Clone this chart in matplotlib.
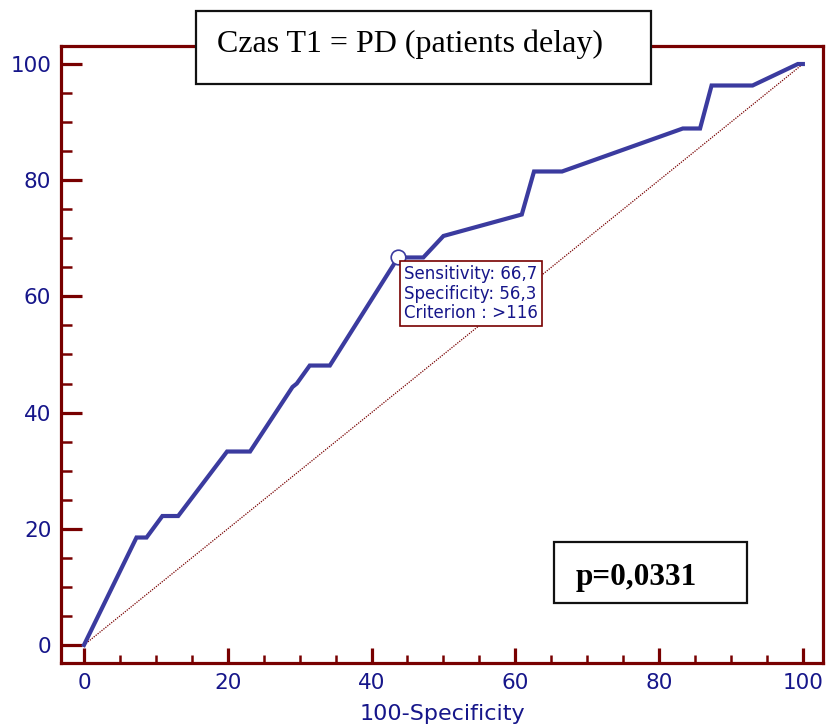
"""
Krzywa ROC - czas T1 (patients delay).
"""
import matplotlib
matplotlib.use('Agg')
import matplotlib.pyplot as plt
from matplotlib.patches import Rectangle
from matplotlib.ticker import MultipleLocator

# Dane (100-Specificity, Sensitivity)
fpr = [0, 7.3, 8.7, 10.9, 13.1, 19.9, 23.1, 29.0, 29.6, 31.4, 34.2, 43.7,
       47.2, 50.0, 60.9, 62.6, 66.5, 83.3, 85.7, 87.3, 93.0, 99.3, 100]
tpr = [0, 18.5, 18.5, 22.2, 22.2, 33.3, 33.3, 44.4, 45.0, 48.1, 48.1, 66.7,
       66.7, 70.4, 74.1, 81.5, 81.5, 88.9, 88.9, 96.3, 96.3, 100, 100]
diag = [0, 100]

# Punkt odciecia
cut_x = 43.7
cut_y = 66.7
cut_labels = ['Sensitivity: 66,7', 'Specificity: 56,3', 'Criterion : >116']

tytul = 'Czas T1 = PD (patients delay)'
p_text = 'p=0,0331'
xlabel = '100-Specificity'

CIEMNY_CZERWONY = '#780000'
GRANAT = '#16168a'
NIEBIESKI = '#3b3b9f'

W, H = 826, 726
fig = plt.figure(figsize=(W / 100, H / 100), dpi=100)
ax = fig.add_axes([61 / W, 1 - 663 / H, (823 - 61) / W, (663 - 46) / H])

# Przekatna i krzywa ROC
ax.plot(diag, diag, color=CIEMNY_CZERWONY, lw=0.9, linestyle=(0, (1, 1)))
ax.plot(fpr, tpr, color=NIEBIESKI, lw=3, solid_joinstyle='miter')
ax.plot([cut_x], [cut_y], 'o', ms=10.5, mfc='white', mec=NIEBIESKI, mew=1.2,
        zorder=5)

ax.annotate('\n'.join(cut_labels), xy=(cut_x, cut_y), xytext=(6, -8),
            textcoords='offset pixels', ha='left', va='top', fontsize=12,
            color=GRANAT, linespacing=1.1, zorder=6,
            bbox=dict(boxstyle='square,pad=0.25', fc='white',
                      ec=CIEMNY_CZERWONY, lw=1.2))

ax.set_xlim(-3.2, 102.8)
ax.set_ylim(-3.1, 103.1)

# Osie
for s in ax.spines.values():
    s.set_color(CIEMNY_CZERWONY)
    s.set_linewidth(2.3)

ax.xaxis.set_major_locator(MultipleLocator(20))
ax.xaxis.set_minor_locator(MultipleLocator(5))
ax.yaxis.set_major_locator(MultipleLocator(20))
ax.yaxis.set_minor_locator(MultipleLocator(5))

ax.tick_params(axis='both', which='both', direction='in',
               color=CIEMNY_CZERWONY, labelcolor=GRANAT, labelsize=15.5,
               pad=7)
ax.tick_params(axis='y', which='major', length=15, width=2.3)
ax.tick_params(axis='y', which='minor', length=8, width=1.8)
ax.tick_params(axis='x', which='major', length=11, width=2.3)
ax.tick_params(axis='x', which='minor', length=6, width=1.8)

ax.set_xlabel(xlabel, fontsize=16, color=GRANAT, labelpad=8)

# Tytul w ramce
fig.patches.append(Rectangle((196 / W, 1 - 84 / H), (651 - 196) / W, 73 / H,
                             transform=fig.transFigure, fc='white',
                             ec='#111111', lw=1.6, zorder=10))
fig.text(217 / W, 1 - 52 / H, tytul, family='Liberation Serif', fontsize=23,
         ha='left', va='baseline', color='black', zorder=11)

# Wartosc p w ramce
fig.patches.append(Rectangle((554 / W, 1 - 603 / H), (747 - 554) / W, 61 / H,
                             transform=fig.transFigure, fc='white',
                             ec='#111111', lw=1.6, zorder=10))
fig.text(576 / W, 1 - 585 / H, p_text, family='Liberation Serif',
         fontweight='bold', fontsize=22.5, ha='left', va='baseline',
         color='black', zorder=11)

fig.savefig('out.png', dpi=100, facecolor='white')
plt.close(fig)
